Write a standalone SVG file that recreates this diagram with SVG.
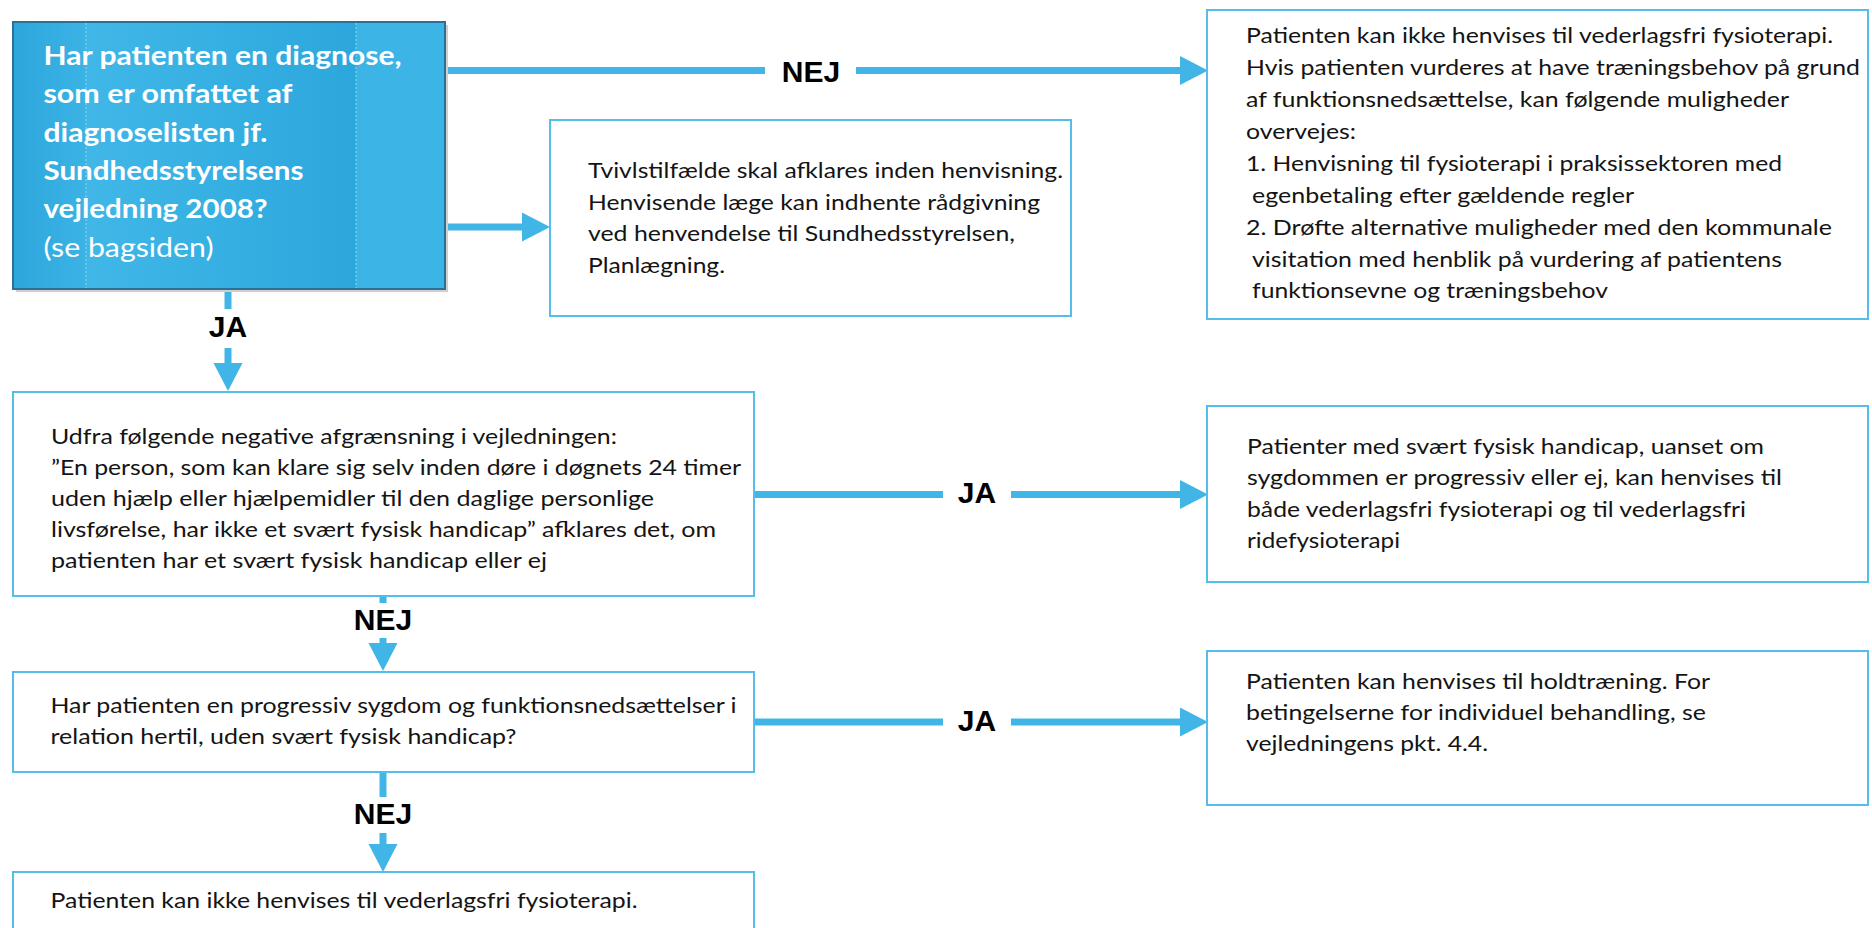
<svg xmlns="http://www.w3.org/2000/svg" width="1872" height="928" viewBox="0 0 1872 928">
<style>
.box{fill:#ffffff;stroke:#55BDEB;stroke-width:2}
.t{font-family:Lato,"Open Sans","Liberation Sans",sans-serif;font-size:22px;fill:#141414}
.tb{font-family:Lato,"Open Sans","Liberation Sans",sans-serif;font-size:27px;font-weight:bold;fill:#ffffff}
.tr{font-family:Lato,"Open Sans","Liberation Sans",sans-serif;font-size:27px;fill:#ffffff}
.lbl{font-family:"Liberation Sans",Arial,sans-serif;font-size:30px;font-weight:bold;fill:#000000;text-anchor:middle}
.ln{fill:none;stroke:#41B6E6;stroke-width:7}
.lnA{fill:none;stroke:#41B6E6;stroke-width:7;marker-end:url(#ah)}
</style>
<defs>
<marker id="ah" markerUnits="userSpaceOnUse" markerWidth="30" markerHeight="32" refX="0" refY="15" orient="auto" viewBox="-1 0 30 30">
<path d="M-1,0.5 L27,15 L-1,29.5 Z" fill="#41B6E6"/>
</marker>
<linearGradient id="s1" x1="0" y1="0" x2="1" y2="0">
<stop offset="0" stop-color="#2DA6DC"/><stop offset="1" stop-color="#3BB3E5"/>
</linearGradient>
<linearGradient id="s2" x1="0" y1="0" x2="1" y2="0">
<stop offset="0" stop-color="#40B7E7"/><stop offset="1" stop-color="#2CA7DD"/>
</linearGradient>
</defs>
<rect width="1872" height="928" fill="#ffffff"/>

<g id="connectors">
<path class="ln" d="M445,70.5 H765"/>
<path class="lnA" d="M856,70.5 H1181"/>
<text class="lbl" x="811" y="82">NEJ</text>
<path class="lnA" d="M445,227 H523"/>
<path class="ln" d="M228,290 V309"/>
<path class="lnA" d="M228,348 V364"/>
<text class="lbl" x="228" y="337">JA</text>
<path class="ln" d="M755,494.5 H943"/>
<path class="lnA" d="M1011,494.5 H1181"/>
<text class="lbl" x="977" y="503">JA</text>
<path class="ln" d="M383,596 V603"/>
<path class="lnA" d="M383,638 V644"/>
<text class="lbl" x="383" y="630">NEJ</text>
<path class="ln" d="M754,722 H943"/>
<path class="lnA" d="M1011,722 H1181"/>
<text class="lbl" x="977" y="731">JA</text>
<path class="ln" d="M383,772 V797"/>
<path class="lnA" d="M383,833 V845"/>
<text class="lbl" x="383" y="824">NEJ</text>
</g>

<g id="n-diagnose">
<rect x="16" y="25" width="432" height="267" fill="#CFCFCF"/>
<rect x="13" y="22" width="73" height="267" fill="url(#s1)"/>
<rect x="86" y="22" width="270" height="267" fill="url(#s2)"/>
<rect x="356" y="22" width="89" height="267" fill="#3DB4E6"/>
<line x1="86" y1="23" x2="86" y2="288" stroke="#8FD3F0" stroke-width="1" stroke-dasharray="2,2"/>
<line x1="356" y1="23" x2="356" y2="288" stroke="#8FD3F0" stroke-width="1" stroke-dasharray="2,2"/>
<rect x="13" y="22" width="432" height="267" fill="none" stroke="#2F6F95" stroke-width="2"/>
<text class="tb" x="43.5" y="65" textLength="358" lengthAdjust="spacingAndGlyphs">Har patienten en diagnose,</text>
<text class="tb" x="43.5" y="103" textLength="249" lengthAdjust="spacingAndGlyphs">som er omfattet af</text>
<text class="tb" x="43.5" y="142" textLength="224" lengthAdjust="spacingAndGlyphs">diagnoselisten jf.</text>
<text class="tb" x="43.5" y="180" textLength="260" lengthAdjust="spacingAndGlyphs">Sundhedsstyrelsens</text>
<text class="tb" x="43.5" y="218" textLength="224" lengthAdjust="spacingAndGlyphs">vejledning 2008?</text>
<text class="tr" x="43.5" y="257" textLength="170" lengthAdjust="spacingAndGlyphs">(se bagsiden)</text>
</g>

<g id="n-tvivl">
<rect class="box" x="550" y="120" width="521" height="196"/>
<text class="t" x="588" y="178" textLength="475" lengthAdjust="spacingAndGlyphs">Tvivlstilfælde skal afklares inden henvisning.</text>
<text class="t" x="588" y="210" textLength="452" lengthAdjust="spacingAndGlyphs">Henvisende læge kan indhente rådgivning</text>
<text class="t" x="588" y="241" textLength="427" lengthAdjust="spacingAndGlyphs">ved henvendelse til Sundhedsstyrelsen,</text>
<text class="t" x="588" y="273" textLength="137" lengthAdjust="spacingAndGlyphs">Planlægning.</text>
</g>

<g id="n-ikke-henvises-1">
<rect class="box" x="1207" y="10" width="661" height="309"/>
<text class="t" x="1246" y="43" textLength="587" lengthAdjust="spacingAndGlyphs">Patienten kan ikke henvises til vederlagsfri fysioterapi.</text>
<text class="t" x="1246" y="75" textLength="614" lengthAdjust="spacingAndGlyphs">Hvis patienten vurderes at have træningsbehov på grund</text>
<text class="t" x="1246" y="107" textLength="543" lengthAdjust="spacingAndGlyphs">af funktionsnedsættelse, kan følgende muligheder</text>
<text class="t" x="1246" y="139" textLength="110" lengthAdjust="spacingAndGlyphs">overvejes:</text>
<text class="t" x="1246" y="171" textLength="536" lengthAdjust="spacingAndGlyphs">1. Henvisning til fysioterapi i praksissektoren med</text>
<text class="t" x="1252" y="203" textLength="382" lengthAdjust="spacingAndGlyphs">egenbetaling efter gældende regler</text>
<text class="t" x="1246" y="235" textLength="586" lengthAdjust="spacingAndGlyphs">2. Drøfte alternative muligheder med den kommunale</text>
<text class="t" x="1252" y="267" textLength="530" lengthAdjust="spacingAndGlyphs">visitation med henblik på vurdering af patientens</text>
<text class="t" x="1252" y="298" textLength="356" lengthAdjust="spacingAndGlyphs">funktionsevne og træningsbehov</text>
</g>

<g id="n-afgraensning">
<rect class="box" x="13" y="392" width="741" height="204"/>
<text class="t" x="51" y="444" textLength="566" lengthAdjust="spacingAndGlyphs">Udfra følgende negative afgrænsning i vejledningen:</text>
<text class="t" x="51" y="475" textLength="690" lengthAdjust="spacingAndGlyphs">”En person, som kan klare sig selv inden døre i døgnets 24 timer</text>
<text class="t" x="51" y="506" textLength="603" lengthAdjust="spacingAndGlyphs">uden hjælp eller hjælpemidler til den daglige personlige</text>
<text class="t" x="51" y="537" textLength="665" lengthAdjust="spacingAndGlyphs">livsførelse, har ikke et svært fysisk handicap” afklares det, om</text>
<text class="t" x="51" y="568" textLength="496" lengthAdjust="spacingAndGlyphs">patienten har et svært fysisk handicap eller ej</text>
</g>

<g id="n-handicap">
<rect class="box" x="1207" y="406" width="661" height="176"/>
<text class="t" x="1247" y="454" textLength="517" lengthAdjust="spacingAndGlyphs">Patienter med svært fysisk handicap, uanset om</text>
<text class="t" x="1247" y="485" textLength="535" lengthAdjust="spacingAndGlyphs">sygdommen er progressiv eller ej, kan henvises til</text>
<text class="t" x="1247" y="517" textLength="499" lengthAdjust="spacingAndGlyphs">både vederlagsfri fysioterapi og til vederlagsfri</text>
<text class="t" x="1247" y="548" textLength="153" lengthAdjust="spacingAndGlyphs">ridefysioterapi</text>
</g>

<g id="n-progressiv">
<rect class="box" x="13" y="672" width="741" height="100"/>
<text class="t" x="50.5" y="713" textLength="686" lengthAdjust="spacingAndGlyphs">Har patienten en progressiv sygdom og funktionsnedsættelser i</text>
<text class="t" x="50.5" y="744" textLength="466" lengthAdjust="spacingAndGlyphs">relation hertil, uden svært fysisk handicap?</text>
</g>

<g id="n-holdtraening">
<rect class="box" x="1207" y="651" width="661" height="154"/>
<text class="t" x="1246" y="689" textLength="464" lengthAdjust="spacingAndGlyphs">Patienten kan henvises til holdtræning. For</text>
<text class="t" x="1246" y="720" textLength="460" lengthAdjust="spacingAndGlyphs">betingelserne for individuel behandling, se</text>
<text class="t" x="1246" y="751" textLength="242" lengthAdjust="spacingAndGlyphs">vejledningens pkt. 4.4.</text>
</g>

<g id="n-ikke-henvises-2">
<rect class="box" x="13" y="872" width="741" height="70"/>
<text class="t" x="50.5" y="908" textLength="587" lengthAdjust="spacingAndGlyphs">Patienten kan ikke henvises til vederlagsfri fysioterapi.</text>
</g>
</svg>
